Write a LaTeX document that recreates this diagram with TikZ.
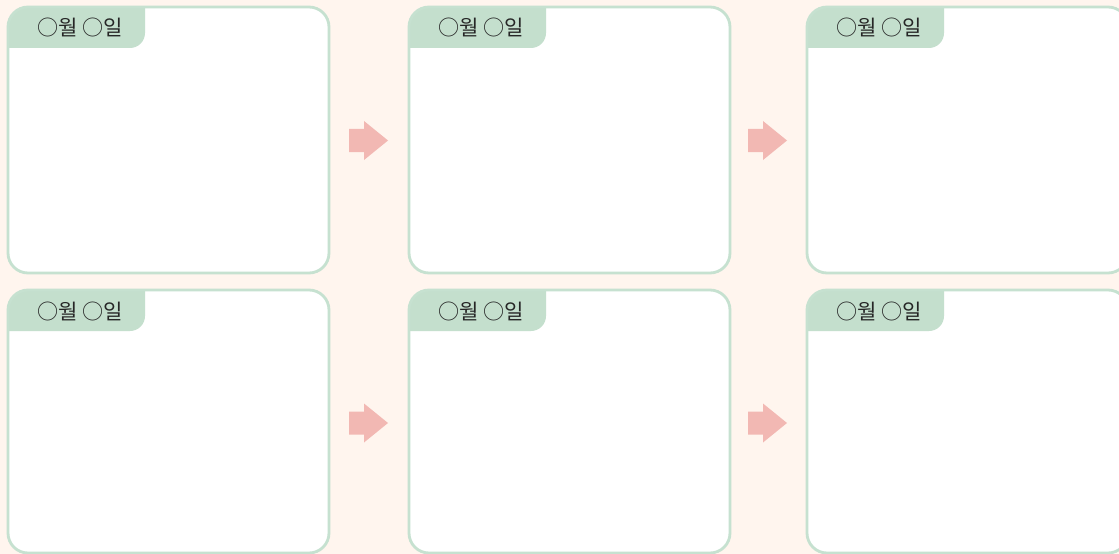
\documentclass[tikz,border=0pt]{standalone}
\usepackage{fontspec}
\setmainfont{Noto Sans CJK KR}
\usepackage{xcolor}
\definecolor{paper}{HTML}{FFF5EE}
\definecolor{mint}{HTML}{C4DFCD}
\definecolor{mintline}{HTML}{C6E1D0}
\definecolor{blush}{HTML}{F2B8B3}
\definecolor{ink}{HTML}{262626}
\usepackage{tikz}
\usetikzlibrary{calc}

\begin{document}
\begin{tikzpicture}[
  x=0.02cm, y=-0.02cm,
  font=\fontsize{12pt}{14pt}\selectfont,
  card/.style={draw=mintline, fill=white, line width=1.6pt, rounded corners=0.4cm},
  tab/.style={fill=mint, rounded corners=0.3cm},
  datelabel/.style={text=ink, inner sep=0pt, anchor=base},
  nextarrow/.style={fill=blush}
]

% background and frame
\fill[paper] (0,0) rectangle (1119,554);
\useasboundingbox (0,0) rectangle (1119,554);
\clip (0,0) rectangle (1119,554);

% cards: row top and height, column left
\foreach \row/\top/\ht in {1/7/266, 2/290/263}{
  \foreach \col/\left in {1/8, 2/409, 3/807}{
    \coordinate (c\row\col) at (\left,\top);
    \fill[card, draw=none] (c\row\col) rectangle ++(321,\ht);
    \begin{scope}
      \clip[rounded corners=0.4cm] (c\row\col) rectangle ++(321,\ht);
      \fill[tab] ($(c\row\col)+(-30,-30)$) rectangle ($(c\row\col)+(137,41)$);
    \end{scope}
    \draw[card, fill=none] (c\row\col) rectangle ++(321,\ht);
    \node[datelabel] (d\row\col) at ($(c\row\col)+(72,29)$) {○월 ○일};
  }
}

% arrows between the cards
\foreach \row/\mid in {1/140.5, 2/423}{
  \foreach \col/\ax in {1/349, 2/748}{
    \coordinate (a\row\col) at (\ax,\mid);
    \fill[nextarrow] (a\row\col) ++(0,-11.5) -- ++(15,0) -- ++(0,-8)
      -- ++(24,19.5) -- ++(-24,19.5) -- ++(0,-8) -- ++(-15,0) -- cycle;
  }
}

\end{tikzpicture}
\end{document}
